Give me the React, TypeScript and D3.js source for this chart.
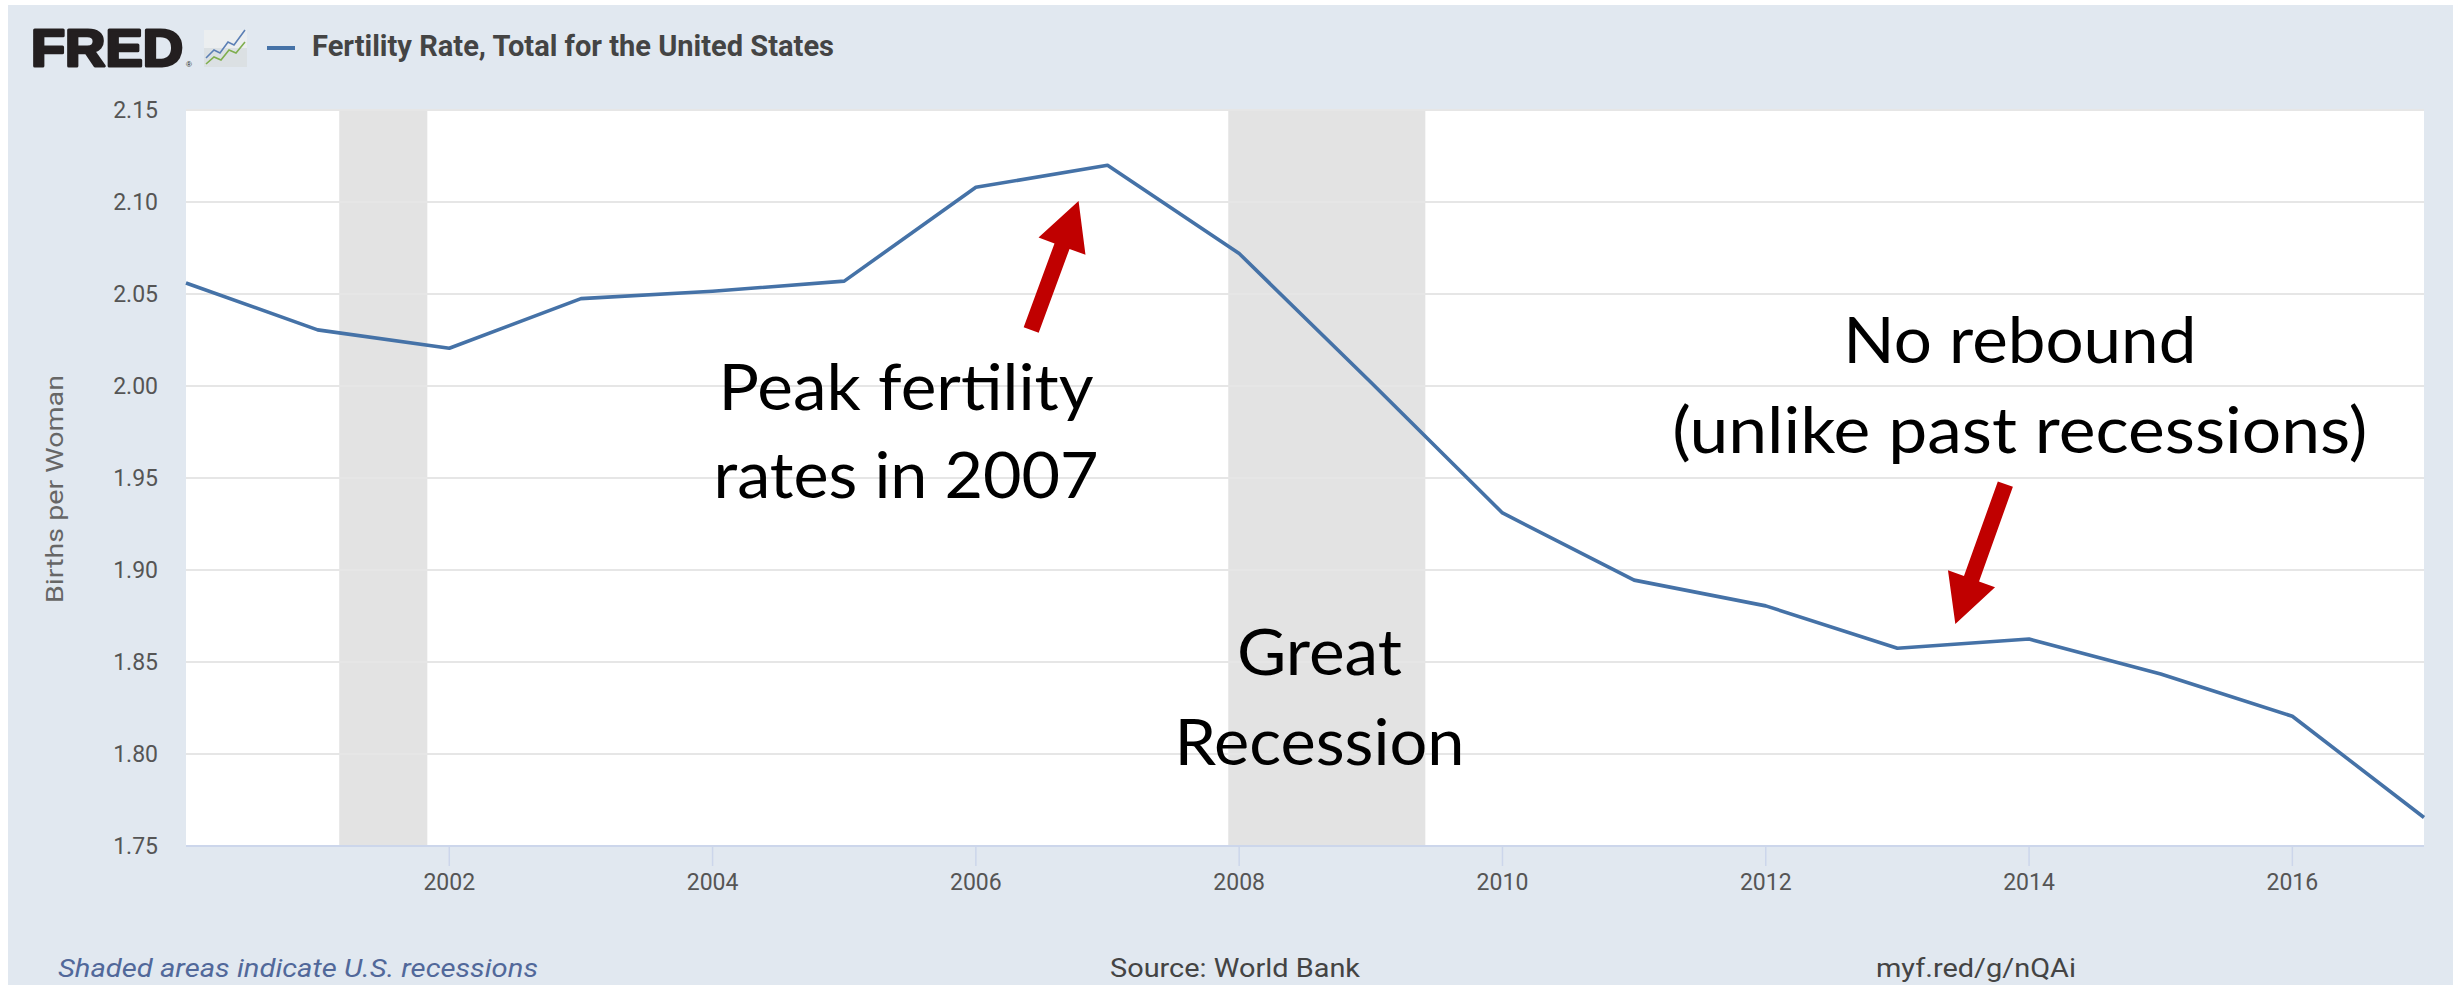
import React from "react";
import * as d3 from "d3";

const YEARS = [2000, 2001, 2002, 2003, 2004, 2005, 2006, 2007, 2008, 2009, 2010, 2011, 2012, 2013, 2014, 2015, 2016, 2017];
const FERTILITY = [2.056, 2.0305, 2.0205, 2.0475, 2.0515, 2.057, 2.108, 2.12, 2.072, 2.002, 1.931, 1.8945, 1.8805, 1.8575, 1.8625, 1.8435, 1.8205, 1.7655];
const Y_TICKS = [1.75, 1.8, 1.85, 1.9, 1.95, 2.0, 2.05, 2.1, 2.15];
const X_TICKS = [2002, 2004, 2006, 2008, 2010, 2012, 2014, 2016];
const RECESSIONS: [number, number][] = [[2001.164, 2001.833], [2007.917, 2009.414]];

const TITLE = "Fertility Rate, Total for the United States";
const Y_TITLE = "Births per Woman";
const FOOT_LEFT = "Shaded areas indicate U.S. recessions";
const FOOT_MID = "Source: World Bank";
const FOOT_RIGHT = "myf.red/g/nQAi";

// annotation texts: [text, centerYear, baselineValue, width]
const NOTES: [string, number, number, number][] = [
  ["Peak fertility", 2005.47, 1.987, 375],
  ["rates in 2007", 2005.47, 1.939, 385],
  ["Great", 2008.61, 1.843, 165],
  ["Recession", 2008.61, 1.794, 290],
  ["No rebound", 2013.93, 2.0125, 353],
  ["(unlike past recessions)", 2013.93, 1.9636, 695],
];
// arrows: tail (year, value) -> tip (year, value)
const ARROWS: [number, number, number, number][] = [
  [2006.42, 2.0304, 2006.78, 2.1005],
  [2013.82, 1.9467, 2013.44, 1.8707],
];

const W = 2453;
const H = 986;
const PL = 186, PR = 2424, PT = 110, PB = 846;

function arrowPath(x0: number, y0: number, x1: number, y1: number) {
  const sw = 16, hw = 50, hl = 48;
  const dx = x1 - x0, dy = y1 - y0;
  const len = Math.hypot(dx, dy);
  const ux = dx / len, uy = dy / len;
  const nx = -uy, ny = ux;
  const bx = x1 - ux * hl, by = y1 - uy * hl;
  const pts = [
    [x0 + nx * sw / 2, y0 + ny * sw / 2],
    [bx + nx * sw / 2, by + ny * sw / 2],
    [bx + nx * hw / 2, by + ny * hw / 2],
    [x1, y1],
    [bx - nx * hw / 2, by - ny * hw / 2],
    [bx - nx * sw / 2, by - ny * sw / 2],
    [x0 - nx * sw / 2, y0 - ny * sw / 2],
  ];
  return "M" + pts.map((p) => p.join(",")).join("L") + "Z";
}

export default function App() {
  const x = d3.scaleLinear().domain([2000, 2017]).range([PL, PR]);
  const y = d3.scaleLinear().domain([1.75, 2.15]).range([PB, PT]);
  const data = YEARS.map((yr, i) => ({ yr, v: FERTILITY[i] }));
  const line = d3
    .line<{ yr: number; v: number }>()
    .x((d) => x(d.yr))
    .y((d) => y(d.v));

  const axisFont = "Roboto, 'DejaVu Sans', sans-serif";
  const noteFont = "Lato, 'Open Sans', sans-serif";

  return (
    <svg
      width={W}
      height={H}
      style={{ position: "absolute", left: 0, top: 0, display: "block" }}
    >
      <rect x={0} y={0} width={W} height={H} fill="#ffffff" />
      <rect x={8} y={5} width={W - 8} height={H - 6} fill="#e1e8f0" />

      {/* header */}
      <text
        x={31}
        y={66}
        fontFamily="'Liberation Sans', Arial, sans-serif"
        fontWeight={900}
        fontSize={52}
        fill="#231f20"
        stroke="#231f20"
        strokeWidth={3}
        strokeLinejoin="round"
        textLength={152}
        lengthAdjust="spacingAndGlyphs"
      >
        FRED
      </text>
      <text x={186} y={67} fontFamily="'Liberation Sans', sans-serif" fontSize={8} fill="#231f20">
        ®
      </text>
      <g>
        <rect x={204} y={30} width={43} height={37} fill="#d9dde0" opacity={0.8} />
        <rect x={204} y={30} width={43} height={18} fill="#eceff1" opacity={0.9} />
        <polyline
          points="206,58 214,50 220,53 228,42 234,45 245,30"
          fill="none"
          stroke="#5b7fb5"
          strokeWidth={1.6}
        />
        <polyline
          points="206,64 214,57 221,60 229,50 236,53 245,42"
          fill="none"
          stroke="#7fae4e"
          strokeWidth={1.6}
        />
      </g>
      <line x1={267} x2={295} y1={48} y2={48} stroke="#4572a7" strokeWidth={4} />
      <text
        x={312}
        y={56}
        fontFamily={axisFont}
        fontWeight={700}
        fontSize={29}
        fill="#444444"
        textLength={522}
        lengthAdjust="spacingAndGlyphs"
      >
        {TITLE}
      </text>

      {/* plot area */}
      <rect x={PL} y={PT} width={PR - PL} height={PB - PT} fill="#ffffff" />
      {RECESSIONS.map(([a, b], i) => (
        <rect key={i} x={x(a)} y={PT} width={x(b) - x(a)} height={PB - PT} fill="#e3e3e3" />
      ))}
      {Y_TICKS.map((t) => (
        <line key={t} x1={PL} x2={PR} y1={y(t)} y2={y(t)} stroke="#e6e6e6" strokeWidth={2} />
      ))}
      <line x1={PL} x2={PR} y1={PB} y2={PB} stroke="#ccd6eb" strokeWidth={2} />
      {X_TICKS.map((t) => (
        <line key={t} x1={x(t)} x2={x(t)} y1={PB} y2={PB + 20} stroke="#ccd6eb" strokeWidth={1.5} />
      ))}

      <path d={line(data) || ""} fill="none" stroke="#4572a7" strokeWidth={3.6} strokeLinejoin="round" />

      {/* axis labels */}
      {Y_TICKS.map((t) => (
        <text
          key={t}
          x={158}
          y={y(t) + 8}
          textAnchor="end"
          fontFamily={axisFont}
          fontSize={23}
          fill="#555555"
        >
          {t.toFixed(2)}
        </text>
      ))}
      {X_TICKS.map((t) => (
        <text
          key={t}
          x={x(t)}
          y={890}
          textAnchor="middle"
          fontFamily={axisFont}
          fontSize={23}
          fill="#555555"
        >
          {t}
        </text>
      ))}
      <text
        transform={`translate(55, ${(PT + PB) / 2 + 11}) rotate(-90)`}
        textAnchor="middle"
        dominantBaseline="central"
        fontFamily={axisFont}
        fontSize={23}
        fill="#666666"
        textLength={228}
        lengthAdjust="spacingAndGlyphs"
      >
        {Y_TITLE}
      </text>

      {/* footer */}
      <text
        x={58}
        y={977}
        fontFamily={axisFont}
        fontStyle="italic"
        fontSize={25}
        fill="#51689a"
        textLength={480}
        lengthAdjust="spacingAndGlyphs"
      >
        {FOOT_LEFT}
      </text>
      <text
        x={1110}
        y={977}
        fontFamily={axisFont}
        fontSize={25}
        fill="#444444"
        textLength={250}
        lengthAdjust="spacingAndGlyphs"
      >
        {FOOT_MID}
      </text>
      <text
        x={1876}
        y={977}
        fontFamily={axisFont}
        fontSize={25}
        fill="#444444"
        textLength={200}
        lengthAdjust="spacingAndGlyphs"
      >
        {FOOT_RIGHT}
      </text>

      {/* annotations */}
      {NOTES.map(([t, cx, by, w], i) => (
        <text
          key={i}
          x={x(cx) - w / 2}
          y={y(by)}
          fontFamily={noteFont}
          fontSize={64}
          fill="#000000"
          textLength={w}
          lengthAdjust="spacingAndGlyphs"
        >
          {t}
        </text>
      ))}
      {ARROWS.map(([a, b, c, d], i) => (
        <path key={i} d={arrowPath(x(a), y(b), x(c), y(d))} fill="#c00000" />
      ))}
    </svg>
  );
}
